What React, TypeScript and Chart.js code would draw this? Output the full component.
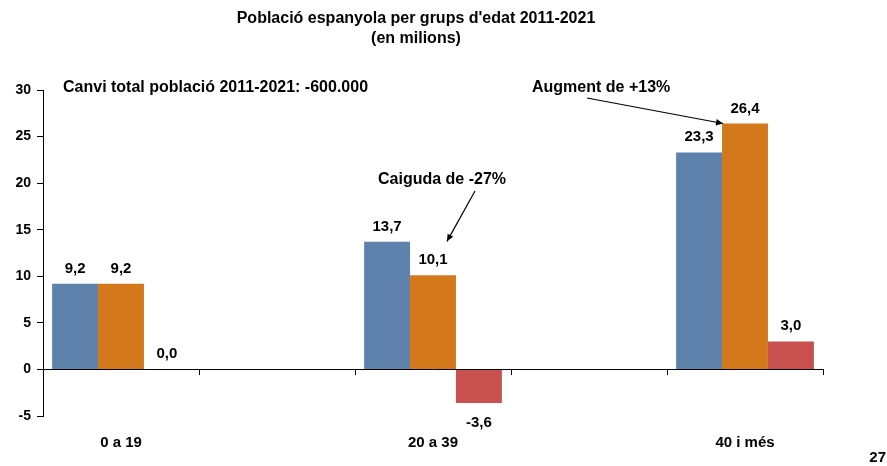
import { useEffect, useRef } from 'react';
import { Chart, registerables } from 'chart.js';

Chart.register(...registerables);

const FONT = '"Liberation Sans", Arial, Helvetica, sans-serif';

const categories = ['0 a 19', '', '20 a 39', '', '40 i més'];
const series2011 = [9.2, null, 13.7, null, 23.3];
const series2021 = [9.2, null, 10.1, null, 26.4];
const seriesChange = [0.0, null, -3.6, null, 3.0];
const seriesNames = ['2011', '2021', 'Canvi 2011-2021'];
const seriesColors = ['#5E82AB', '#D4791B', '#C8504F'];
const yMin = -5;
const yMax = 30;
const yStep = 5;

const titleLines = ["Població espanyola per grups d'edat 2011-2021", '(en milions)'];
const noteTotal = 'Canvi total població 2011-2021: -600.000';
const noteDrop = 'Caiguda de -27%';
const noteRise = 'Augment de +13%';
const pageNumber = '27';

function fmt(v: number) {
  return v.toFixed(1).replace('.', ',');
}

function arrow(ctx: CanvasRenderingContext2D, x1: number, y1: number, x2: number, y2: number) {
  ctx.beginPath();
  ctx.moveTo(x1, y1);
  ctx.lineTo(x2, y2);
  ctx.lineWidth = 1.2;
  ctx.strokeStyle = '#000';
  ctx.stroke();
  const a = Math.atan2(y2 - y1, x2 - x1);
  const len = 7;
  const w = 3.2;
  ctx.beginPath();
  ctx.moveTo(x2, y2);
  ctx.lineTo(x2 - len * Math.cos(a) + w * Math.sin(a), y2 - len * Math.sin(a) - w * Math.cos(a));
  ctx.lineTo(x2 - len * Math.cos(a) - w * Math.sin(a), y2 - len * Math.sin(a) + w * Math.cos(a));
  ctx.closePath();
  ctx.fillStyle = '#000';
  ctx.fill();
}

const annotatePlugin = {
  id: 'annotate',
  afterDatasetsDraw(chart: any) {
    const ctx: CanvasRenderingContext2D = chart.ctx;
    ctx.save();
    ctx.fillStyle = '#000';
    // value labels
    chart.data.datasets.forEach((ds: any, di: number) => {
      const meta = chart.getDatasetMeta(di);
      meta.data.forEach((el: any, i: number) => {
        const v = ds.data[i];
        if (v === null || v === undefined) return;
        ctx.font = `bold 15px ${FONT}`;
        ctx.textAlign = 'center';
        ctx.textBaseline = 'alphabetic';
        if (v < 0) ctx.fillText(fmt(v), el.x, el.y + 24);
        else ctx.fillText(fmt(v), el.x, el.y - 11);
      });
    });
    // title
    ctx.font = `bold 16px ${FONT}`;
    ctx.textAlign = 'center';
    ctx.textBaseline = 'alphabetic';
    ctx.fillText(titleLines[0], 416, 23);
    ctx.fillText(titleLines[1], 416, 43);
    // notes
    ctx.textAlign = 'left';
    ctx.fillText(noteTotal, 63, 92);
    ctx.fillText(noteRise, 532, 92);
    ctx.fillText(noteDrop, 378, 184);
    // arrows anchored on the 2021 bars
    const m21 = chart.getDatasetMeta(1);
    const b2 = m21.data[2];
    const b4 = m21.data[4];
    arrow(ctx, 475, 191, b2.x + 14, b2.y - 34);
    arrow(ctx, 587, 98, b4.x - b4.width / 2 + 1, b4.y);
    // page number
    ctx.font = `bold 15px ${FONT}`;
    ctx.textAlign = 'right';
    ctx.fillText(pageNumber, 886, 462);
    ctx.restore();
  },
};

export default function App() {
  const ref = useRef<HTMLCanvasElement | null>(null);
  useEffect(() => {
    if (!ref.current) return;
    const chart = new Chart(ref.current, {
      type: 'bar',
      data: {
        labels: categories,
        datasets: [series2011, series2021, seriesChange].map((d, i) => ({
          label: seriesNames[i],
          data: d,
          backgroundColor: seriesColors[i],
          borderWidth: 0,
          categoryPercentage: 0.883,
          barPercentage: 1,
          xAxisID: 'x',
          yAxisID: 'y',
        })),
      },
      options: {
        animation: false,
        responsive: true,
        maintainAspectRatio: false,
        layout: { padding: { top: 90, right: 64, bottom: 0, left: 0 } },
        plugins: {
          legend: { display: false },
          tooltip: { enabled: false },
          title: { display: false },
        },
        scales: {
          x: {
            type: 'category',
            position: 'bottom',
            offset: true,
            grid: { display: false, drawTicks: false },
            border: { display: false },
            ticks: {
              autoSkip: false,
              maxRotation: 0,
              minRotation: 0,
              padding: 18,
              color: '#000',
              font: { family: FONT, size: 15, weight: 'bold' },
            },
            afterFit: (s: any) => {
              s.height = 50;
            },
          },
          x2: {
            type: 'category',
            labels: categories,
            position: { y: 0 },
            offset: true,
            grid: {
              display: true,
              offset: true,
              drawOnChartArea: false,
              drawTicks: true,
              tickLength: 5,
              color: '#000',
              lineWidth: 1,
            },
            border: { display: true, color: '#000', width: 1 },
            ticks: { display: false },
          },
          y: {
            min: yMin,
            max: yMax,
            position: 'left',
            grid: {
              drawOnChartArea: false,
              drawTicks: true,
              tickLength: 6,
              color: '#000',
              lineWidth: 1,
            },
            border: { display: true, color: '#000', width: 1 },
            ticks: {
              stepSize: yStep,
              padding: 6,
              color: '#000',
              font: { family: FONT, size: 14, weight: 'bold' },
            },
            afterFit: (s: any) => {
              s.width = 43;
            },
          },
        },
      } as any,
      plugins: [annotatePlugin],
    });
    return () => chart.destroy();
  }, []);
  return (
    <div style={{ position: 'absolute', left: 0, top: 0, width: 887, height: 466, background: '#fff' }}>
      <canvas ref={ref} />
    </div>
  );
}
